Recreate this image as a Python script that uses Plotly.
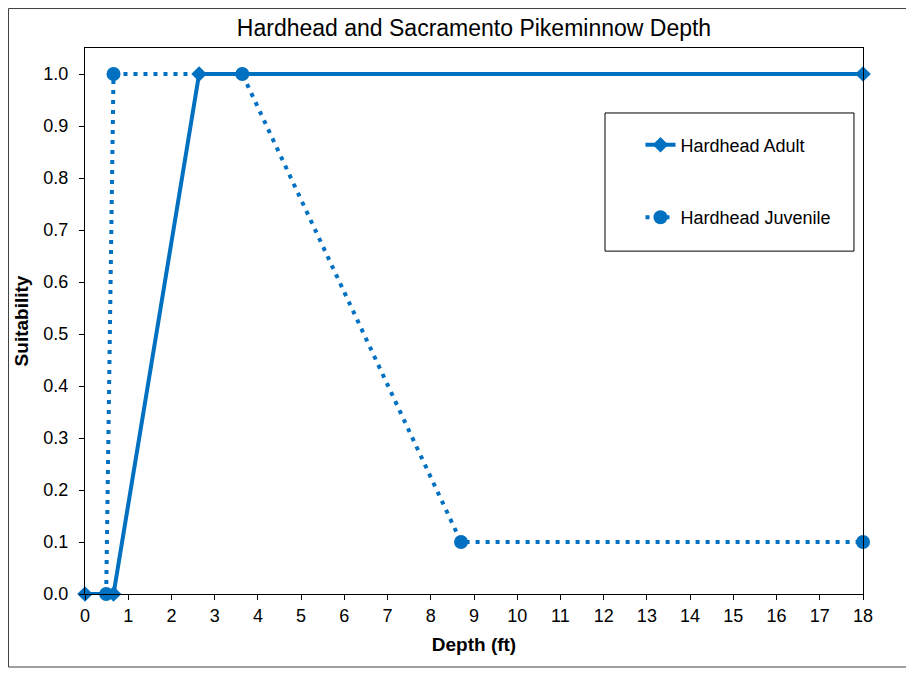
import plotly.graph_objects as go

# ── Data ─────────────────────────────────────────────────────────────────────
adult_depth = [0.0, 0.66, 2.64, 18.0]
adult_suit = [0.0, 0.0, 1.0, 1.0]

juv_depth = [0.49, 0.66, 3.64, 8.7, 18.0]
juv_suit = [0.0, 1.0, 1.0, 0.1, 0.1]

x_ticks = list(range(0, 19))
y_ticks = [round(i * 0.1, 1) for i in range(11)]

BLUE = "#0070C0"
FONT = "Liberation Sans, Arial, sans-serif"

fig = go.Figure()
fig.add_trace(go.Scatter(
    x=adult_depth, y=adult_suit, name="Hardhead Adult", mode="lines+markers",
    line=dict(color=BLUE, width=4), marker=dict(symbol="diamond", size=12, color=BLUE),
    cliponaxis=False, legendgroup="a",
))
fig.add_trace(go.Scatter(
    x=juv_depth, y=juv_suit, name="Hardhead Juvenile", mode="lines+markers",
    line=dict(color=BLUE, width=4, dash="4px,6px"), marker=dict(symbol="circle", size=14, color=BLUE),
    cliponaxis=False, legendgroup="b",
))

# outer chart border + legend frame (page body adds an 8px offset)
fig.add_shape(type="rect", xref="paper", yref="paper", x0=-0.0983, x1=1.0649, y0=-0.1337, y1=1.0723,
              line=dict(color="#404040", width=1), layer="below")
fig.add_shape(type="rect", xref="paper", yref="paper", x0=0.6684, x1=0.9884, y0=0.628, y1=0.881,
              line=dict(color="black", width=1), layer="below")

fig.update_layout(
    width=906, height=665,
    margin=dict(l=77, r=51, t=40, b=79),
    paper_bgcolor="white", plot_bgcolor="white",
    font=dict(family=FONT, size=18, color="black"),
    title=dict(text="Hardhead and Sacramento Pikeminnow Depth", x=0.5, xref="paper", xanchor="center",
               y=0.97, yanchor="middle", font=dict(size=23)),
    legend=dict(x=0.714, y=0.856, xanchor="left", yanchor="top", bgcolor="rgba(0,0,0,0)",
                borderwidth=0, tracegroupgap=46, traceorder="grouped", font=dict(size=18)),
    xaxis=dict(range=[0, 18], tickvals=x_ticks, showgrid=False, zeroline=False,
               showline=True, mirror=True, linecolor="black", linewidth=1,
               ticks="outside", ticklen=5, tickcolor="black",
               title=dict(text="<b>Depth (ft)</b>", font=dict(size=19), standoff=13)),
    yaxis=dict(range=[0, 1.05], tickvals=y_ticks, tickformat=".1f", showgrid=False, zeroline=False,
               showline=True, mirror=True, linecolor="black", linewidth=1,
               ticks="outside", ticklen=5, tickcolor="black", ticklabelstandoff=7,
               title=dict(text="<b>Suitability</b>", font=dict(size=19), standoff=9)),
)

fig.write_html("out.html")
